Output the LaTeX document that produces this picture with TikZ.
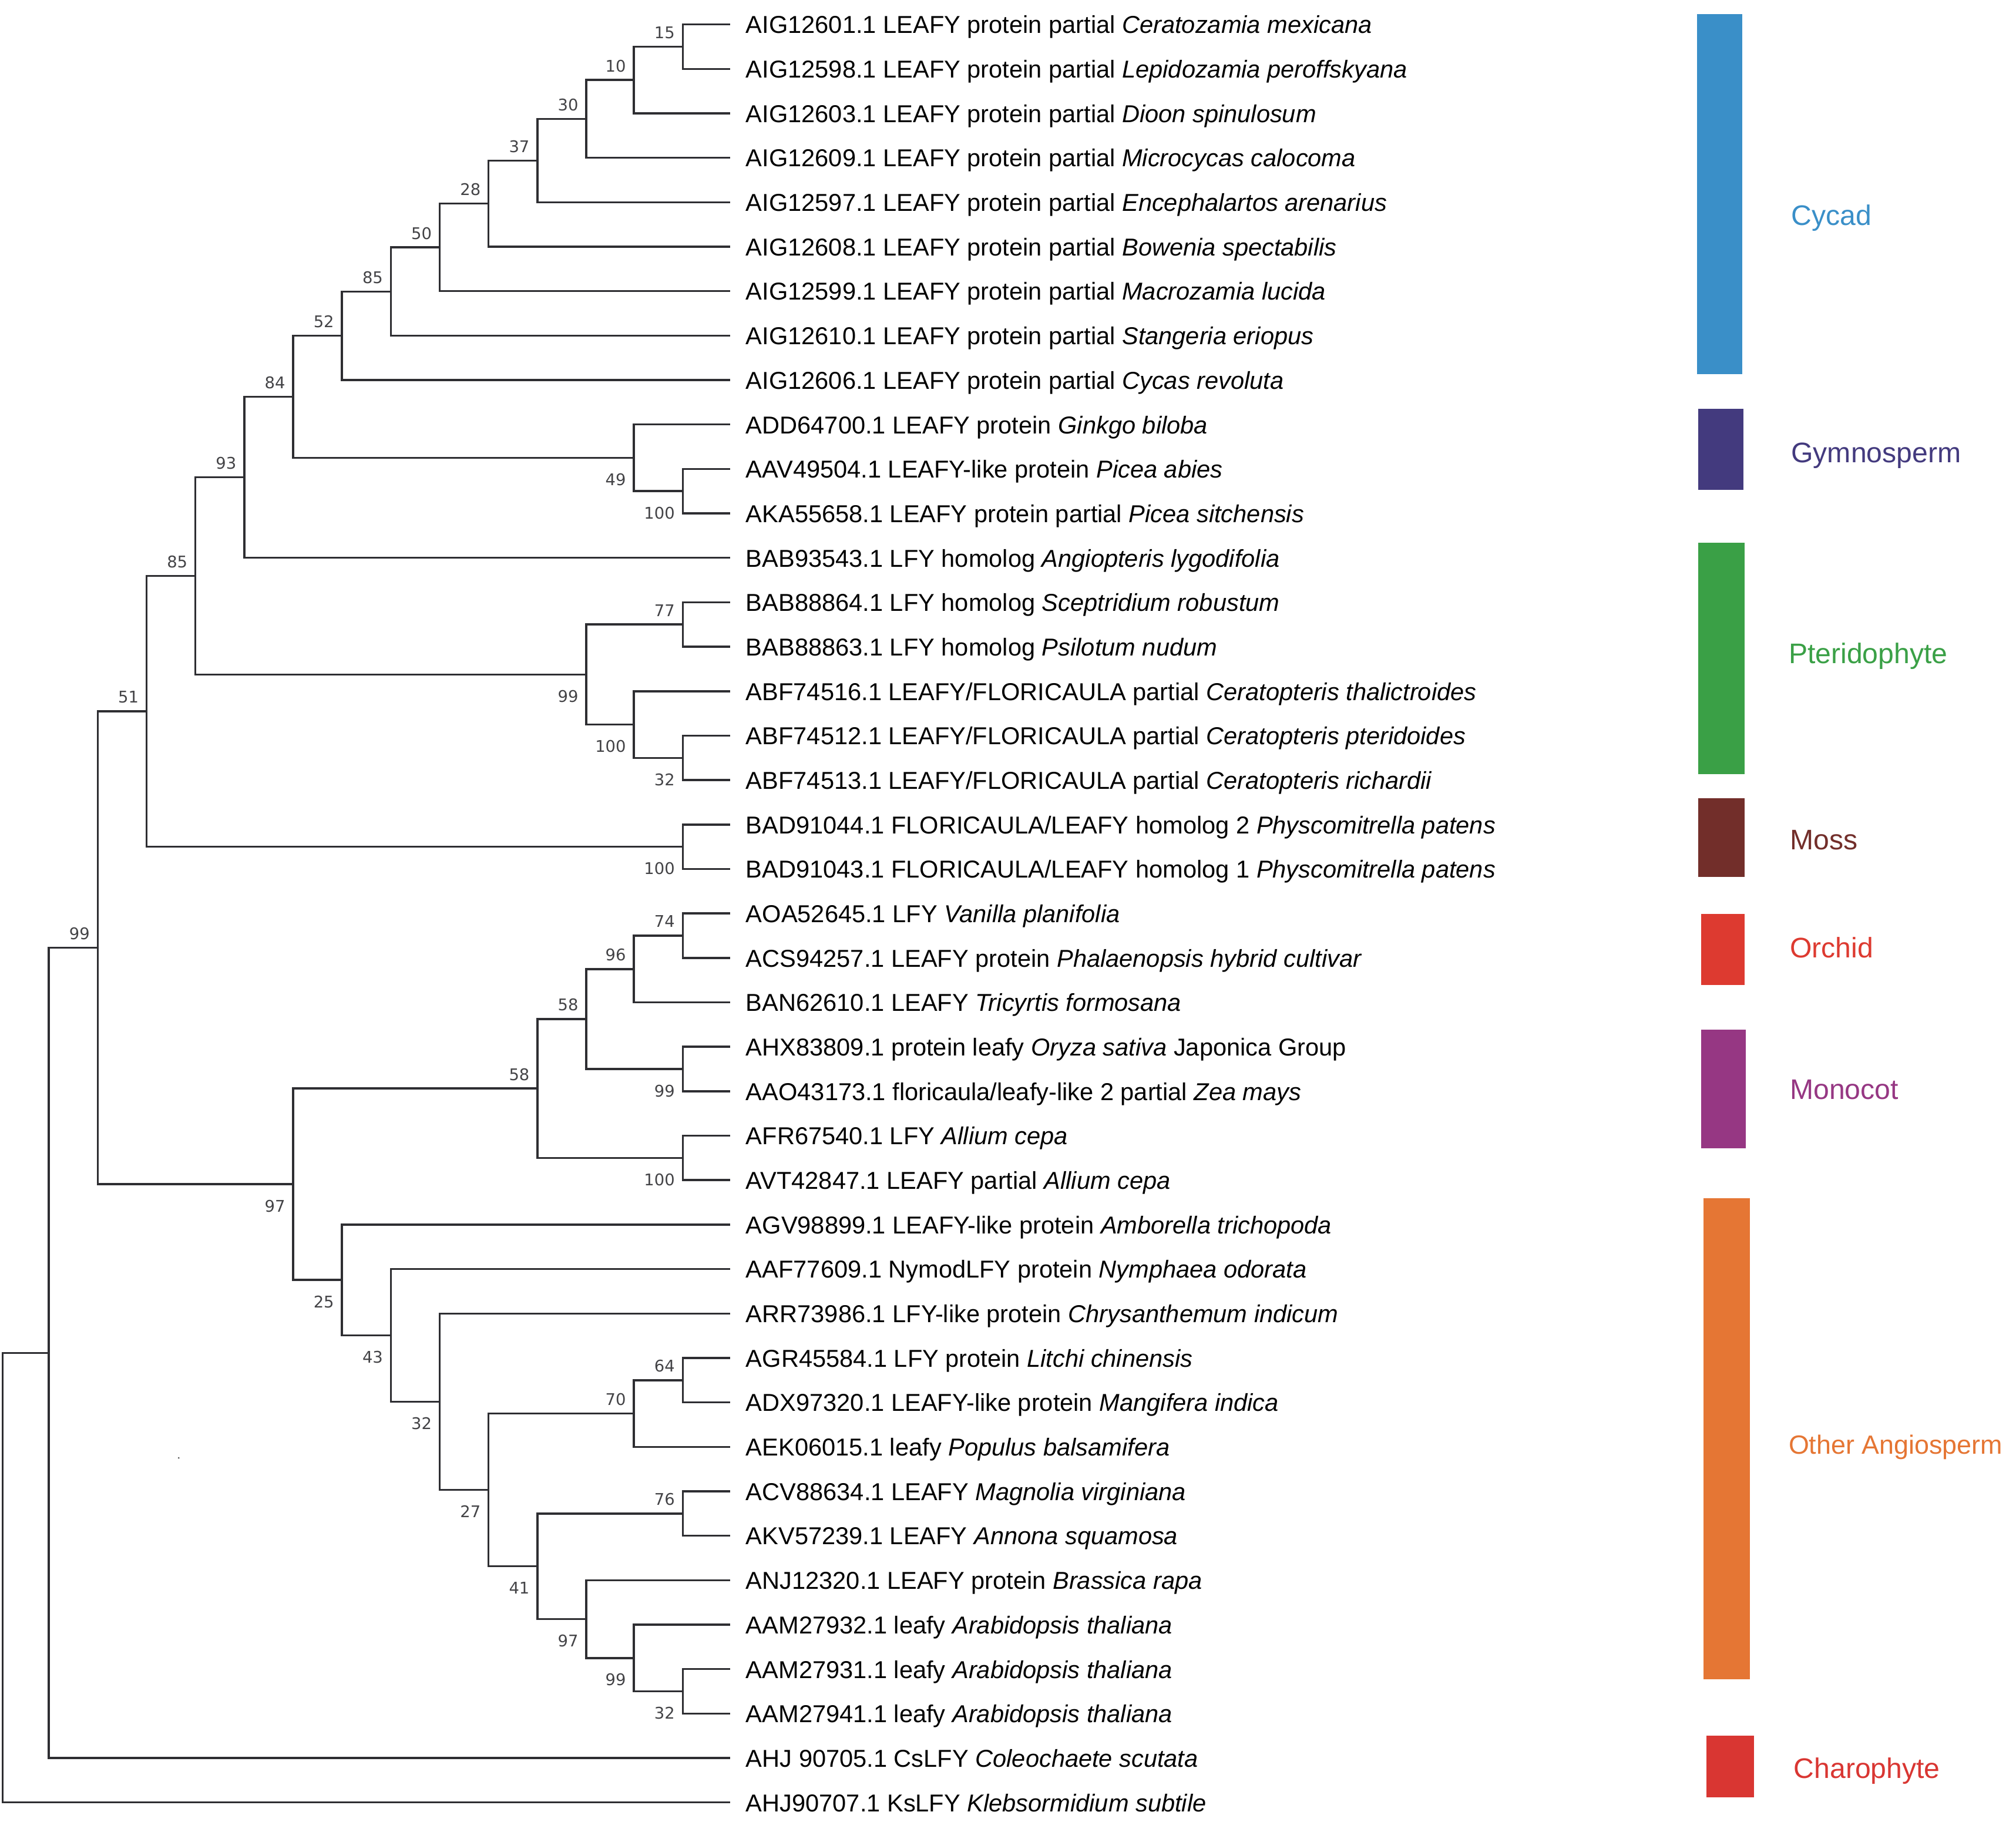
\documentclass[tikz,border=0pt]{standalone}
\usepackage{fontspec}
\setmainfont{Liberation Sans}
\newfontfamily\bsfont{DejaVu Sans}
\usetikzlibrary{calc}
\definecolor{branchc}{HTML}{2E2E32}
\definecolor{cycadc}{HTML}{3A8FC8}
\definecolor{gymnoc}{HTML}{433A7E}
\definecolor{pterc}{HTML}{3AA046}
\definecolor{mossc}{HTML}{722E2A}
\definecolor{orchidc}{HTML}{DD3A30}
\definecolor{monoc}{HTML}{963783}
\definecolor{angioc}{HTML}{E57634}
\definecolor{charoc}{HTML}{D93632}
\newcommand\clade[4]{%
  \path ($(#3)!0.5!(#4)$) coordinate (tmpmid);
  \coordinate (tmpx) at (#2,0);
  \coordinate (#1) at (tmpx |- tmpmid);
  \draw[branch] (#3) -- (#1 |- #3) -- (#1 |- #4) -- (#4);
}
\newcommand\bsa[2]{\node[bs,anchor=east] (b#1) at ($(#1)+(-6,-11)$) {#2};}
\newcommand\bsb[2]{\node[bs,anchor=east] (b#1) at ($(#1)+(-6,17)$) {#2};}
\newcommand\leaftext[2]{\node[leaf] (t#1) at ($(l#1)+(12,7)$) {#2};}
\begin{document}
\begin{tikzpicture}[x=1pt,y=-1pt,
  branch/.style={draw=branchc,line width=1.6pt,line join=miter},
  leaf/.style={font=\fontsize{19}{22}\selectfont,inner sep=0pt,anchor=base west},
  bs/.style={font=\bsfont\fontsize{12.5}{14}\selectfont,text=branchc!90,inner sep=0pt},
  grp/.style={font=\fontsize{22}{26}\selectfont,inner sep=0pt,anchor=base west}]
\useasboundingbox (0,0) rectangle (1568,1417);
\foreach \i in {1,...,41} {\coordinate (l\i) at (568,{19+(\i-1)*34.575});}
% Cycads
\clade{n15}{531}{l1}{l2}
\clade{n10}{493}{n15}{l3}
\clade{n30}{456}{n10}{l4}
\clade{n37}{418}{n30}{l5}
\clade{n28}{380}{n37}{l6}
\clade{n50}{342}{n28}{l7}
\clade{n85a}{304}{n50}{l8}
\clade{n52}{266}{n85a}{l9}
% Gymnosperms
\clade{n100g}{531}{l11}{l12}
\clade{n49}{493}{l10}{n100g}
\clade{n84}{228}{n52}{n49}
\clade{n93}{190}{n84}{l13}
% Pteridophytes
\clade{n77}{531}{l14}{l15}
\clade{n32p}{531}{l17}{l18}
\clade{n100p}{493}{l16}{n32p}
\clade{n99p}{456}{n77}{n100p}
\clade{n85b}{152}{n93}{n99p}
% Moss
\clade{n100m}{531}{l19}{l20}
\clade{n51}{114}{n85b}{n100m}
% Monocots
\clade{n74}{531}{l21}{l22}
\clade{n96}{493}{n74}{l23}
\clade{n99m}{531}{l24}{l25}
\clade{n58a}{456}{n96}{n99m}
\clade{n100a}{531}{l26}{l27}
\clade{n58b}{418}{n58a}{n100a}
% Other angiosperms
\clade{n64}{531}{l31}{l32}
\clade{n70}{493}{n64}{l33}
\clade{n76}{531}{l34}{l35}
\clade{n32a}{531}{l38}{l39}
\clade{n99a}{493}{l37}{n32a}
\clade{n97a}{456}{l36}{n99a}
\clade{n41}{418}{n76}{n97a}
\clade{n27}{380}{n70}{n41}
\clade{n32b}{342}{l30}{n27}
\clade{n43}{304}{l29}{n32b}
\clade{n25}{266}{l28}{n43}
\clade{n97}{228}{n58b}{n25}
% deep nodes
\clade{n99}{76}{n51}{n97}
\clade{n38}{38}{n99}{l40}
\clade{nroot}{2}{n38}{l41}
% bootstrap labels
\bsa{n15}{15}\bsa{n10}{10}\bsa{n30}{30}\bsa{n37}{37}\bsa{n28}{28}
\bsa{n50}{50}\bsa{n85a}{85}\bsa{n52}{52}\bsa{n84}{84}\bsa{n93}{93}
\bsa{n85b}{85}\bsa{n51}{51}\bsa{n99}{99}
\bsb{n49}{49}\bsb{n100g}{100}
\bsa{n77}{77}\bsb{n99p}{99}\bsb{n100p}{100}\bsb{n32p}{32}
\bsb{n100m}{100}
\bsa{n74}{74}\bsa{n96}{96}\bsa{n58a}{58}\bsb{n99m}{99}\bsa{n58b}{58}\bsb{n100a}{100}
\bsb{n97}{97}\bsb{n25}{25}\bsb{n43}{43}\bsb{n32b}{32}\bsb{n27}{27}
\bsa{n70}{70}\bsa{n64}{64}\bsb{n41}{41}\bsa{n76}{76}\bsb{n97a}{97}
\bsb{n99a}{99}\bsb{n32a}{32}
% leaf texts
\leaftext{1}{AIG12601.1 LEAFY protein partial \textit{Ceratozamia mexicana}}
\leaftext{2}{AIG12598.1 LEAFY protein partial \textit{Lepidozamia peroffskyana}}
\leaftext{3}{AIG12603.1 LEAFY protein partial \textit{Dioon spinulosum}}
\leaftext{4}{AIG12609.1 LEAFY protein partial \textit{Microcycas calocoma}}
\leaftext{5}{AIG12597.1 LEAFY protein partial \textit{Encephalartos arenarius}}
\leaftext{6}{AIG12608.1 LEAFY protein partial \textit{Bowenia spectabilis}}
\leaftext{7}{AIG12599.1 LEAFY protein partial \textit{Macrozamia lucida}}
\leaftext{8}{AIG12610.1 LEAFY protein partial \textit{Stangeria eriopus}}
\leaftext{9}{AIG12606.1 LEAFY protein partial \textit{Cycas revoluta}}
\leaftext{10}{ADD64700.1 LEAFY protein \textit{Ginkgo biloba}}
\leaftext{11}{AAV49504.1 LEAFY-like protein \textit{Picea abies}}
\leaftext{12}{AKA55658.1 LEAFY protein partial \textit{Picea sitchensis}}
\leaftext{13}{BAB93543.1 LFY homolog \textit{Angiopteris lygodifolia}}
\leaftext{14}{BAB88864.1 LFY homolog \textit{Sceptridium robustum}}
\leaftext{15}{BAB88863.1 LFY homolog \textit{Psilotum nudum}}
\leaftext{16}{ABF74516.1 LEAFY/FLORICAULA partial \textit{Ceratopteris thalictroides}}
\leaftext{17}{ABF74512.1 LEAFY/FLORICAULA partial \textit{Ceratopteris pteridoides}}
\leaftext{18}{ABF74513.1 LEAFY/FLORICAULA partial \textit{Ceratopteris richardii}}
\leaftext{19}{BAD91044.1 FLORICAULA/LEAFY homolog 2 \textit{Physcomitrella patens}}
\leaftext{20}{BAD91043.1 FLORICAULA/LEAFY homolog 1 \textit{Physcomitrella patens}}
\leaftext{21}{AOA52645.1 LFY \textit{Vanilla planifolia}}
\leaftext{22}{ACS94257.1 LEAFY protein \textit{Phalaenopsis hybrid cultivar}}
\leaftext{23}{BAN62610.1 LEAFY \textit{Tricyrtis formosana}}
\leaftext{24}{AHX83809.1 protein leafy \textit{Oryza sativa} Japonica Group}
\leaftext{25}{AAO43173.1 floricaula/leafy-like 2 partial \textit{Zea mays}}
\leaftext{26}{AFR67540.1 LFY \textit{Allium cepa}}
\leaftext{27}{AVT42847.1 LEAFY partial \textit{Allium cepa}}
\leaftext{28}{AGV98899.1 LEAFY-like protein \textit{Amborella trichopoda}}
\leaftext{29}{AAF77609.1 NymodLFY protein \textit{Nymphaea odorata}}
\leaftext{30}{ARR73986.1 LFY-like protein \textit{Chrysanthemum indicum}}
\leaftext{31}{AGR45584.1 LFY protein \textit{Litchi chinensis}}
\leaftext{32}{ADX97320.1 LEAFY-like protein \textit{Mangifera indica}}
\leaftext{33}{AEK06015.1 leafy \textit{Populus balsamifera}}
\leaftext{34}{ACV88634.1 LEAFY \textit{Magnolia virginiana}}
\leaftext{35}{AKV57239.1 LEAFY \textit{Annona squamosa}}
\leaftext{36}{ANJ12320.1 LEAFY protein \textit{Brassica rapa}}
\leaftext{37}{AAM27932.1 leafy \textit{Arabidopsis thaliana}}
\leaftext{38}{AAM27931.1 leafy \textit{Arabidopsis thaliana}}
\leaftext{39}{AAM27941.1 leafy \textit{Arabidopsis thaliana}}
\leaftext{40}{AHJ 90705.1 CsLFY \textit{Coleochaete scutata}}
\leaftext{41}{AHJ90707.1 KsLFY \textit{Klebsormidium subtile}}
% group bars
\fill[cycadc] (1320,11) rectangle (1355,291);
\fill[gymnoc] (1321,318) rectangle (1356,381);
\fill[pterc] (1321,422) rectangle (1357,602);
\fill[mossc] (1321,621) rectangle (1357,682);
\fill[orchidc] (1323,711) rectangle (1357,766);
\fill[monoc] (1323,801) rectangle (1358,893);
\fill[angioc] (1325,932) rectangle (1361,1306);
\fill[charoc] (1327,1350) rectangle (1364,1398);
\node[grp,text=cycadc] (gcycad) at (1393,175) {Cycad};
\node[grp,text=gymnoc] (ggymno) at (1393,360) {Gymnosperm};
\node[grp,text=pterc] (gpter) at (1391,516) {Pteridophyte};
\node[grp,text=mossc] (gmoss) at (1392,661) {Moss};
\node[grp,text=orchidc] (gorchid) at (1392,745) {Orchid};
\node[grp,text=monoc] (gmono) at (1392,855) {Monocot};
\node[grp,text=angioc,font=\fontsize{20.5}{24}\selectfont] (gangio) at (1391,1131) {Other Angiosperm};
\node[grp,text=charoc] (gcharo) at (1395,1383) {Charophyte};
\fill[black!70] (139,1134) circle (0.7);
\end{tikzpicture}
\end{document}
